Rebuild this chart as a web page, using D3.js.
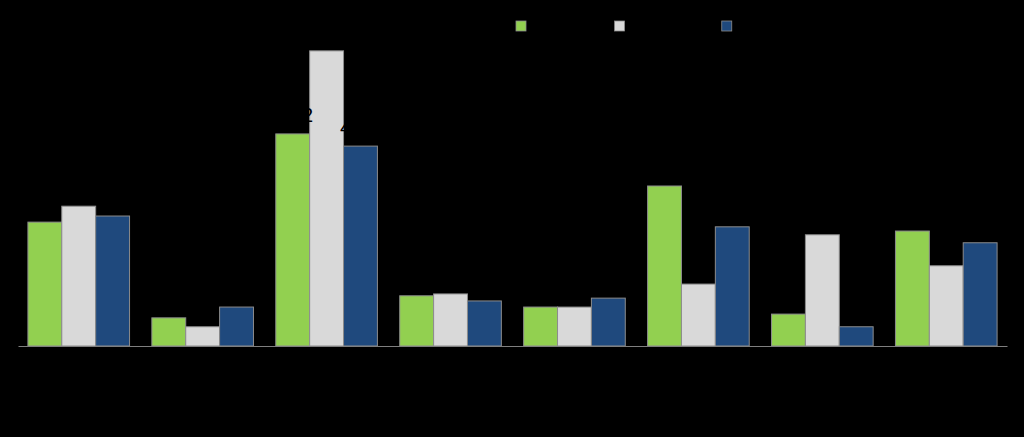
<!DOCTYPE html>
<html>
<head>
<meta charset="utf-8">
<script src="https://cdn.jsdelivr.net/npm/d3@7"></script>
<style>
  html, body { margin: 0; padding: 0; background: #000; }
  svg { display: block; font-family: 'Liberation Sans', Arial, sans-serif; }
</style>
</head>
<body>
<div id="chart"></div>
<script>
// chart data
const categories = ['Region A', 'Region B', 'Region C', 'Region D', 'Region E', 'Region F', 'Region G', 'Region H']
const seriesNames = ['Businesses', 'Public sector', 'Households']
const seriesColors = ['#92D050', '#D9D9D9', '#1F497D']
const businesses = [26.4, 6.0, 45.2, 10.7, 8.3, 34.1, 6.8, 24.5]
const publicSector = [29.8, 4.1, 62.9, 11.1, 8.3, 13.2, 23.7, 17.1]
const households = [27.7, 8.3, 42.6, 9.6, 10.2, 25.4, 4.1, 22.0]
// only the third group carries value labels
const labelled = [{ cat: 'Region C', series: 0 }, { cat: 'Region C', series: 2 }]

const width = 1024
const height = 437
const margin = { top: 41, right: 17, bottom: 91, left: 18 }

const values = [businesses, publicSector, households]
const rows = categories.map((c, i) => ({
  cat: c,
  vals: values.map((s) => s[i]),
}))

const svg = d3
  .select('#chart')
  .append('svg')
  .attr('width', width)
  .attr('height', height)

const x0 = d3
  .scaleBand()
  .domain(categories)
  .range([margin.left, width - margin.right])
  .paddingInner(0.18)
  .paddingOuter(0.08)

const x1 = d3
  .scaleBand()
  .domain(d3.range(seriesNames.length))
  .range([0, x0.bandwidth()])

const y = d3
  .scaleLinear()
  .domain([0, 65])
  .range([height - margin.bottom, margin.top])

// bars
const groups = svg
  .selectAll('g.group')
  .data(rows)
  .enter()
  .append('g')
  .attr('class', 'group')
  .attr('transform', (d) => `translate(${x0(d.cat)},0)`)

groups
  .selectAll('rect')
  .data((d) => d.vals.map((v, i) => ({ v, i })))
  .enter()
  .append('rect')
  .attr('x', (d) => x1(d.i))
  .attr('y', (d) => y(d.v))
  .attr('width', x1.bandwidth())
  .attr('height', (d) => y(0) - y(d.v))
  .attr('fill', (d) => seriesColors[d.i])
  .attr('stroke', '#8c8c8c')
  .attr('stroke-width', 1)

// data labels (black, like the original) drawn over the bars
svg
  .selectAll('text.label')
  .data(labelled)
  .enter()
  .append('text')
  .attr('class', 'label')
  .attr('x', (d) => x0(d.cat) + x1(d.series) + x1.bandwidth() / 2)
  .attr('y', (d) => y(values[d.series][categories.indexOf(d.cat)]) - 12)
  .attr('text-anchor', 'middle')
  .style('font-size', '21px')
  .attr('fill', '#000')
  .text((d) => d3.format('.1f')(values[d.series][categories.indexOf(d.cat)]))

// x axis
const xAxis = svg
  .append('g')
  .attr('transform', `translate(0,${y(0)})`)
  .call(d3.axisBottom(x0).tickSize(0).tickPadding(12))
xAxis.select('.domain').attr('stroke', '#7f7f7f').attr('stroke-width', 1.2)
xAxis.selectAll('text').attr('fill', '#000').style('font-size', '14px')

// legend
const legend = svg.append('g').attr('transform', 'translate(516,21)')
let offset = 0
seriesNames.forEach((name, i) => {
  const item = legend.append('g').attr('transform', `translate(${offset},0)`)
  item
    .append('rect')
    .attr('width', 10)
    .attr('height', 10)
    .attr('fill', seriesColors[i])
    .attr('stroke', '#8c8c8c')
    .attr('stroke-width', 0.8)
  const t = item
    .append('text')
    .attr('x', 15)
    .attr('y', 10)
    .attr('fill', '#000')
    .style('font-size', '14px')
    .text(name)
  offset += 15 + t.node().getComputedTextLength() + 12
})
</script>
</body>
</html>
